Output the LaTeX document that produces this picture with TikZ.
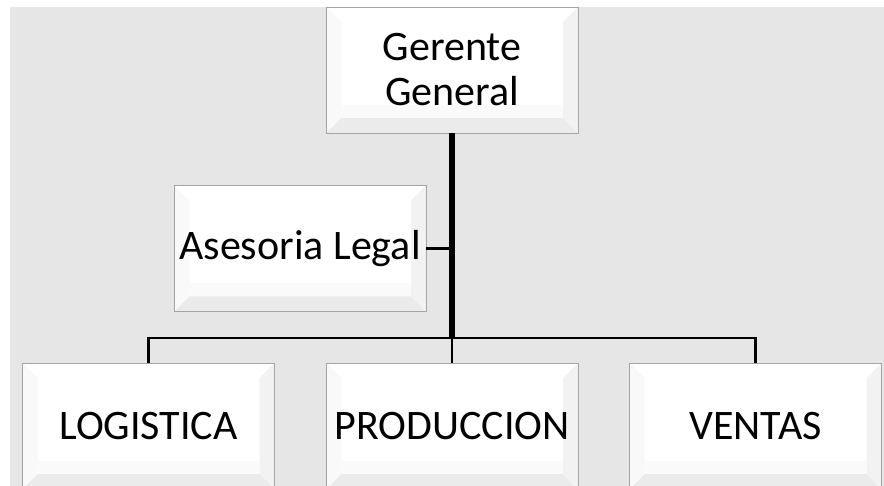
\documentclass[tikz,border=0pt]{standalone}
\usepackage{fontspec}
\setmainfont{Carlito}
\usepackage{xcolor}
\usepackage{tikz}
\usetikzlibrary{positioning,calc}

\definecolor{fondo}{RGB}{230,230,230}
\definecolor{borde}{RGB}{165,165,165}

\begin{document}
\begin{tikzpicture}[
    x=1pt, y=-1pt,
    cargo/.style={rectangle, draw=borde, line width=0.8pt, fill=white, minimum width=252pt, minimum height=126pt,
        inner sep=2pt, outer sep=0pt, align=center, font=\fontsize{42}{45}\selectfont,
        path picture={
            \fill[gray!16] (path picture bounding box.south west) -- (path picture bounding box.south east)
                -- ([shift={(-15pt,15pt)}]path picture bounding box.south east) -- ([shift={(15pt,15pt)}]path picture bounding box.south west) -- cycle;
            \fill[gray!10] (path picture bounding box.south east) -- (path picture bounding box.north east)
                -- ([shift={(-15pt,-15pt)}]path picture bounding box.north east) -- ([shift={(-15pt,15pt)}]path picture bounding box.south east) -- cycle;
            \fill[gray!5] (path picture bounding box.south west) -- (path picture bounding box.north west)
                -- ([shift={(15pt,-15pt)}]path picture bounding box.north west) -- ([shift={(15pt,15pt)}]path picture bounding box.south west) -- cycle;
            \fill[gray!4] ([shift={(15pt,15pt)}]path picture bounding box.south west) rectangle ([shift={(-15pt,28pt)}]path picture bounding box.south east);
        }},
    troncal/.style={line width=5.5pt, black},
    conector/.style={line width=2.5pt, black}
]

\useasboundingbox (0,0) rectangle (884,486);
\fill[fondo] (10,7) rectangle (884,486);

\node[cargo] (gerente) at (452,70) {Gerente\\General};
\node[cargo] (asesoria) at (300,248.5) {Asesoria Legal};
\node[cargo] (logistica) at (148.5,426) {LOGISTICA};
\node[cargo] (produccion) at (452,426) {PRODUCCION};
\node[cargo] (ventas) at (755.5,426) {VENTAS};

\coordinate (bus) at (452,338);

\draw[conector] (asesoria.east) -- (asesoria.east -| gerente.south);
\draw[conector] (logistica.north) |- (bus) -| (ventas.north);
\draw[conector] (bus) -- (produccion.north);
\draw[troncal] (gerente.south) -- (bus);

\end{tikzpicture}
\end{document}
